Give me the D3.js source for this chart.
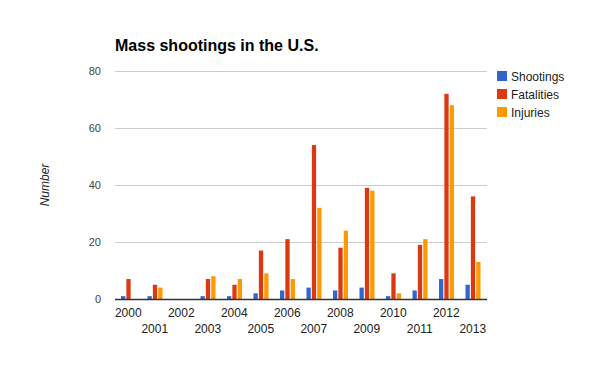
<!DOCTYPE html>
<html>
<head>
<meta charset="utf-8">
<script src="https://cdn.jsdelivr.net/npm/d3@7"></script>
<style>
  body { margin: 0; background: #fff; }
  text { font-family: Arial, "Liberation Sans", sans-serif; }
</style>
</head>
<body>
<svg id="chart" width="600" height="371"></svg>
<script>
// data
const years = ["2000", "2001", "2002", "2003", "2004", "2005", "2006",
  "2007", "2008", "2009", "2010", "2011", "2012", "2013"];
const shootings = [1, 1, 0, 1, 1, 2, 3, 4, 3, 4, 1, 3, 7, 5];
const fatalities = [7, 5, 0, 7, 5, 17, 21, 54, 18, 39, 9, 19, 72, 36];
const injuries = [0, 4, 0, 8, 7, 9, 7, 32, 24, 38, 2, 21, 68, 13];
const seriesNames = ["Shootings", "Fatalities", "Injuries"];
const yTicks = [0, 20, 40, 60, 80];

const colors = ["#3366cc", "#dc3912", "#ff9900"];
const series = [shootings, fatalities, injuries];

const svg = d3.select("#chart");
const plotLeft = 115, plotRight = 486, plotTop = 71, plotBottom = 299;

const x = d3.scaleBand().domain(years).range([plotLeft, plotRight]);
const sub = d3.scaleBand().domain(seriesNames).range([0, 15]).paddingInner(0.2);
const y = d3.scaleLinear().domain([0, 80]).range([plotBottom, plotTop]);

// gridlines
svg.append("g")
  .selectAll("line")
  .data(yTicks.filter((d) => d > 0))
  .enter()
  .append("line")
  .attr("x1", plotLeft)
  .attr("x2", plotRight + 1)
  .attr("y1", (d) => Math.round(y(d)) + 0.5)
  .attr("y2", (d) => Math.round(y(d)) + 0.5)
  .attr("stroke", "#cccccc");

// y labels
svg.append("g")
  .selectAll("text")
  .data(yTicks)
  .enter()
  .append("text")
  .attr("x", 101)
  .attr("y", (d) => y(d) + 4)
  .attr("text-anchor", "end")
  .attr("fill", "#444")
  .style("font-size", "11px")
  .text((d) => d);

// bars
series.forEach((vals, i) => {
  svg.append("g")
    .selectAll("rect")
    .data(vals)
    .enter()
    .append("rect")
    .attr("x", (d, j) => x(years[j]) + 6 + sub(seriesNames[i]))
    .attr("width", sub.bandwidth())
    .attr("y", (d) => y(d))
    .attr("height", (d) => plotBottom - y(d))
    .attr("fill", colors[i]);
});

// baseline
svg.append("line")
  .attr("x1", plotLeft)
  .attr("x2", plotRight + 1)
  .attr("y1", plotBottom + 0.5)
  .attr("y2", plotBottom + 0.5)
  .attr("stroke", "#333")
  .attr("stroke-width", 1.5);

// x labels, staggered
svg.append("g")
  .selectAll("text")
  .data(years)
  .enter()
  .append("text")
  .attr("x", (d) => x(d) + x.bandwidth() / 2)
  .attr("y", (d, i) => (i % 2 === 0 ? 317 : 333))
  .attr("text-anchor", "middle")
  .attr("fill", "#222")
  .style("font-size", "12px")
  .text((d) => d);

// title
svg.append("text")
  .attr("x", 115)
  .attr("y", 51)
  .style("font-size", "16px")
  .style("font-weight", "bold")
  .attr("fill", "#000")
  .text("Mass shootings in the U.S.");

// y axis title
svg.append("text")
  .attr("transform", "translate(49,185) rotate(-90)")
  .attr("text-anchor", "middle")
  .style("font-size", "12px")
  .style("font-style", "italic")
  .attr("fill", "#222")
  .text("Number");

// legend
const legend = svg.append("g")
  .selectAll("g")
  .data(seriesNames)
  .enter()
  .append("g")
  .attr("transform", (d, i) => `translate(497,${71 + i * 18})`);
legend.append("rect")
  .attr("width", 10)
  .attr("height", 10)
  .attr("fill", (d, i) => colors[i]);
legend.append("text")
  .attr("x", 14)
  .attr("y", 9.5)
  .style("font-size", "12px")
  .attr("fill", "#222")
  .text((d) => d);
</script>
</body>
</html>
